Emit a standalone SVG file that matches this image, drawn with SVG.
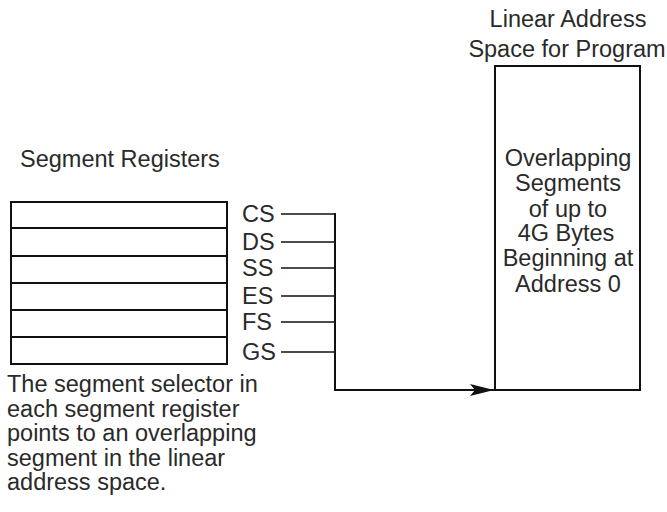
<svg xmlns="http://www.w3.org/2000/svg" width="667" height="512" viewBox="0 0 667 512">
<style>
text{font-family:"Liberation Sans",Arial,sans-serif;font-size:23.5px;fill:#2a2a2a}
.c{text-anchor:middle}
.ln{stroke:#111;stroke-width:2;fill:none}
.thin{stroke:#111;stroke-width:1.3;fill:none}
</style>
<defs>
<marker id="ah" markerWidth="24" markerHeight="12" refX="24" refY="6" orient="auto" markerUnits="userSpaceOnUse">
<path d="M0,0 L24,6 L0,12 L5,6 Z" fill="#111"/>
</marker>
</defs>
<rect width="667" height="512" fill="#fff"/>
<g id="registers">
<text x="20" y="167">Segment Registers</text>
<rect x="11" y="202" width="216" height="162" class="ln"/>
<path d="M11,228H227M11,256H227M11,283H227M11,310H227M11,337H227" class="ln"/>
<text x="242" y="222">CS</text>
<text x="242" y="250">DS</text>
<text x="242" y="276">SS</text>
<text x="242" y="304">ES</text>
<text x="242" y="330">FS</text>
<text x="242" y="360">GS</text>
</g>
<g id="linear-space">
<text class="c" x="568" y="27">Linear Address</text>
<text class="c" x="567" y="57">Space for Program</text>
<rect x="495" y="66" width="145" height="324" class="ln"/>
<text class="c" x="568" y="166">Overlapping</text>
<text class="c" x="568" y="191">Segments</text>
<text class="c" x="568" y="217">of up to</text>
<text class="c" x="566" y="241">4G Bytes</text>
<text class="c" x="568" y="266">Beginning at</text>
<text class="c" x="568" y="292">Address 0</text>
</g>
<g id="note">
<text x="7" y="392">The segment selector in</text>
<text x="7" y="417">each segment register</text>
<text x="7" y="441">points to an overlapping</text>
<text x="7" y="466">segment in the linear</text>
<text x="7" y="490">address space.</text>
</g>
<g id="connectors">
<path d="M281,214H335M281,242H335M281,268H335M281,296H335M281,322H335M281,352H335" class="thin"/>
<path d="M335,213V390H494" class="ln" marker-end="url(#ah)"/>
</g>
</svg>
